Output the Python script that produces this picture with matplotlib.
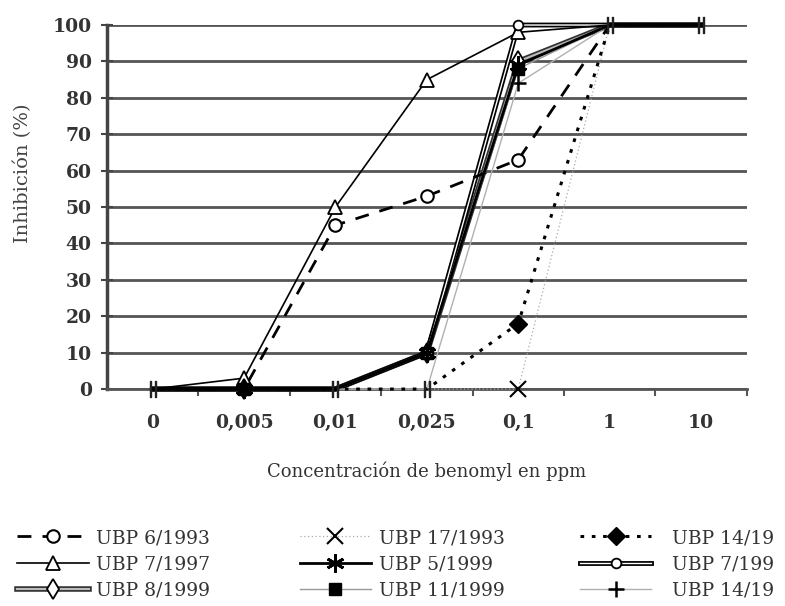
import matplotlib
matplotlib.use("Agg")
import matplotlib.pyplot as plt
from matplotlib.legend_handler import HandlerTuple
import numpy as np

# Datos
categories = ["0", "0,005", "0,01", "0,025", "0,1", "1", "10"]

ubp_6_1993 = [0, 0, 45, 53, 63, 100, 100]
ubp_7_1997 = [0, 3, 50, 85, 98, 100, 100]
ubp_8_1999 = [0, 0, 0, 10, 90, 100, 100]
ubp_17_1993 = [0, 0, 0, 0, 0, 100, 100]
ubp_5_1999 = [0, 0, 0, 10, 89, 100, 100]
ubp_11_1999 = [0, 0, 0, 10, 88, 100, 100]
ubp_14_1999_rombo = [0, 0, 0, 0, 18, 100, 100]
ubp_7_1999 = [0, 0, 0, 10, 100, 100, 100]
ubp_14_1999_cruz = [0, 0, 0, 0, 84, 100, 100]

# marcadores dobles "||" que aparecen en el original
break_cats = ["0", "0,01", "0,025", "1", "10"]
break_vals = [0, 0, 0, 100, 100]

plt.rcParams["font.family"] = ["DejaVu Serif"]

x = np.arange(len(categories))
pos = {c: i for i, c in enumerate(categories)}

fig = plt.figure(figsize=(7.85, 6.06), dpi=100)
ax = fig.add_axes([0.1363, 0.358, 0.815, 0.6007])

kw = dict(clip_on=False)

# UBP 6/1993: discontinua con circulo abierto
h1, = ax.plot(x, ubp_6_1993, color="black", lw=2, linestyle=(0, (5, 4)),
              marker="o", ms=9, mfc="white", mec="black", mew=1.5,
              markevery=[2, 3, 4], zorder=5, **kw)
# UBP 7/1997: continua fina con triangulo
h2, = ax.plot(x, ubp_7_1997, color="black", lw=1.2, marker="^", ms=10,
              mfc="white", mec="black", mew=1.3, markevery=[1, 2, 3, 4], zorder=5, **kw)
# UBP 8/1999: linea doble con rombo abierto
l3a, = ax.plot(x, ubp_8_1999, color="#333333", lw=4, zorder=3, **kw)
l3b, = ax.plot(x, ubp_8_1999, color="#bbbbbb", lw=1.5, zorder=3.1, **kw)
m3, = ax.plot(x, ubp_8_1999, linestyle="none", marker="d", ms=10, mfc="white",
              mec="black", mew=1.3, markevery=[1, 3, 4], zorder=5, **kw)
# UBP 17/1993: punteada gris con X
h4, = ax.plot(x, ubp_17_1993, color="#aaaaaa", lw=0.9, linestyle=(0, (1, 2)),
              marker="x", ms=11, mec="black", mew=1.5, markevery=[4], zorder=4, **kw)
# UBP 5/1999: continua negra con asterisco
h5, = ax.plot(x, ubp_5_1999, color="black", lw=2, marker=(6, 2, 0), ms=13,
              mec="black", mew=2, markevery=[1, 3, 4], zorder=6, **kw)
# UBP 11/1999: gris fina con cuadrado negro
h6, = ax.plot(x, ubp_11_1999, color="#999999", lw=1, marker="s", ms=8,
              mfc="black", mec="black", markevery=[1, 3, 4], zorder=5, **kw)
# UBP 14/19..: punteada con rombo negro
h7, = ax.plot(x, ubp_14_1999_rombo, color="black", lw=2.2, linestyle=(0, (1.2, 2.5)),
              marker="D", ms=9, mfc="black", mec="black", markevery=[4], zorder=5, **kw)
# UBP 7/199..: linea doble con circulo pequeno
l8a, = ax.plot(x, ubp_7_1999, color="black", lw=3.5, zorder=3, **kw)
l8b, = ax.plot(x, ubp_7_1999, color="white", lw=1, zorder=3.1, **kw)
m8, = ax.plot(x, ubp_7_1999, linestyle="none", marker="o", ms=7, mfc="white",
              mec="black", mew=1.3, markevery=[3, 4], zorder=5, **kw)
# UBP 14/19..: gris fina con cruz
h9, = ax.plot(x, ubp_14_1999_cruz, color="#b0b0b0", lw=1, marker="+", ms=11,
              mec="black", mew=1.8, markevery=[4], zorder=4, **kw)

# marcadores "||"
ax.plot([pos[c] for c in break_cats], break_vals, linestyle="none",
        marker="$||$", ms=12, color="#222222", zorder=7, **kw)

# Ejes
ax.set_xlim(-0.5, 6.5)
ax.set_ylim(0, 100)
ax.set_yticks(np.arange(0, 101, 10))
ax.set_xticks(x, labels=categories)
ax.set_xticks(np.arange(0.5, 6.6, 1), minor=True)
ax.tick_params(axis="x", which="major", length=0, pad=18, labelsize=13.5,
               labelcolor="#333333")
ax.tick_params(axis="x", which="minor", length=5, width=1.5, color="#555555",
               direction="out")
ax.tick_params(axis="y", length=8, width=1.5, color="#444444", direction="inout",
               labelsize=13.5, labelcolor="#333333", pad=7)
for lab in ax.get_xticklabels() + ax.get_yticklabels():
    lab.set_fontweight("bold")

ax.set_axisbelow(True)
ax.yaxis.grid(True, color="#555555", lw=2)
for s in ["top", "right"]:
    ax.spines[s].set_visible(False)
ax.spines["left"].set_color("#444444")
ax.spines["left"].set_linewidth(2.5)
ax.spines["bottom"].set_color("#555555")
ax.spines["bottom"].set_linewidth(2)

ax.set_ylabel("Inhibición (%)", fontsize=14, color="#444444")
ax.yaxis.set_label_coords(-0.117, 0.593)
ax.set_xlabel("Concentración de benomyl en ppm", fontsize=13, color="#333333",
              labelpad=21)

# Leyenda en tres columnas (texto tal como aparece en el original)
cols = [
    ([h1, h2, (l3a, l3b, m3)], ["UBP 6/1993", "UBP 7/1997", "UBP 8/1999"], 0.022, 0.4),
    ([h4, h5, h6], ["UBP 17/1993", "UBP 5/1999", "UBP 11/1999"], 0.382, 0.4),
    ([h7, (l8a, l8b, m8), h9], ["UBP 14/19", "UBP 7/199", "UBP 14/19"], 0.739, 1.1),
]
for handles, labels, xa, tp in cols:
    fig.legend(handles, labels, loc="upper left", bbox_to_anchor=(xa, 0.127),
               frameon=False, borderpad=0, borderaxespad=0, handlelength=3.8,
               handletextpad=tp, labelspacing=0.45, fontsize=13.5,
               labelcolor="#333333",
               handler_map={tuple: HandlerTuple(ndivide=1, pad=0)})

fig.savefig("out.png", dpi=100)
